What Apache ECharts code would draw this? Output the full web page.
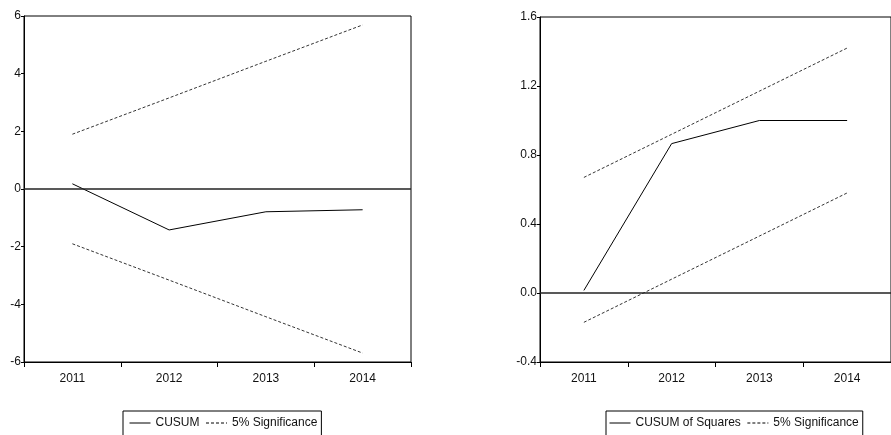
<!DOCTYPE html>
<html>
<head>
<meta charset="utf-8">
<script src="https://cdn.jsdelivr.net/npm/echarts@6/dist/echarts.min.js"></script>
<style>
html,body{margin:0;padding:0;background:#fff;}
#c{width:891px;height:435px;}
</style>
</head>
<body>
<div id="c"></div>
<script>
var years = ['2011', '2012', '2013', '2014'];
var cusum = [0.18, -1.42, -0.79, -0.72];
var cusumUpper = [1.90, 3.16, 4.43, 5.69];
var cusumLower = [-1.90, -3.16, -4.43, -5.69];
var cusumSq = [0.015, 0.866, 1.0, 1.0];
var sqUpper = [0.67, 0.92, 1.17, 1.42];
var sqLower = [-0.17, 0.08, 0.33, 0.58];

var FONT = '"Liberation Sans Narrow", "Arial Narrow", "Liberation Sans", Arial, sans-serif';
var TXT = '#111';

function xAxis(gi) {
  return {
    type: 'category', gridIndex: gi, data: years, boundaryGap: true,
    axisLine: { show: true, onZero: false, lineStyle: { color: '#000', width: 1 } },
    axisTick: { show: true, inside: false, length: 5, alignWithLabel: false, lineStyle: { color: '#000' } },
    axisLabel: { color: TXT, fontFamily: FONT, fontSize: 12, margin: 11 },
    splitLine: { show: false }
  };
}
function yAxis(gi, min, max, interval, dec) {
  return {
    type: 'value', gridIndex: gi, min: min, max: max, interval: interval,
    axisLine: { show: true, onZero: false, lineStyle: { color: '#000', width: 1 } },
    axisTick: { show: true, length: 3, lineStyle: { color: '#000' } },
    axisLabel: { color: TXT, fontFamily: FONT, fontSize: 12, margin: 3,
      formatter: function (v) { return dec ? v.toFixed(dec) : String(Math.round(v)); } },
    splitLine: { show: false }
  };
}
function solid(name, data, xi, withZero) {
  var s = {
    name: name, type: 'line', xAxisIndex: xi, yAxisIndex: xi, data: data,
    symbol: 'none', silent: true, animation: false,
    lineStyle: { color: '#000', width: 1, type: 'solid' },
    itemStyle: { color: '#000' }
  };
  if (withZero) {
    s.markLine = {
      silent: true, symbol: ['none', 'none'], label: { show: false },
      lineStyle: { color: '#222', width: 1.5, type: 'solid' },
      data: [{ yAxis: 0 }], animation: false
    };
  }
  return s;
}
function dashed(name, data, xi) {
  return {
    name: name, type: 'line', xAxisIndex: xi, yAxisIndex: xi, data: data,
    symbol: 'none', silent: true, animation: false,
    lineStyle: { color: '#000', width: 0.8, type: [3, 2] },
    itemStyle: { color: '#000' }
  };
}
function legend(left, names, padLeft) {
  return {
    left: left, top: 411, orient: 'horizontal',
    data: names,
    itemWidth: 21, itemHeight: 8, itemGap: 6,
    padding: [6, 4, 20, padLeft],
    borderColor: '#000', borderWidth: 1, borderRadius: 0,
    backgroundColor: '#fff',
    selectedMode: false,
    lineStyle: { width: 1 },
    itemStyle: { color: 'transparent', borderColor: 'transparent', borderWidth: 0, opacity: 0 },
    textStyle: { color: TXT, fontFamily: FONT, fontSize: 12 }
  };
}

var chart = echarts.init(document.getElementById('c'), null, { renderer: 'canvas' });
chart.setOption({
  backgroundColor: '#fff',
  animation: false,
  grid: [
    { left: 24, top: 16, width: 387, height: 346, show: true, borderColor: '#000', borderWidth: 1, backgroundColor: 'transparent' },
    { left: 540, top: 17, width: 358, height: 345, show: true, borderColor: '#000', borderWidth: 1, backgroundColor: 'transparent' }
  ],
  xAxis: [xAxis(0), xAxis(1)],
  yAxis: [yAxis(0, -6, 6, 2, 0), yAxis(1, -0.4, 1.6, 0.4, 1)],
  legend: [
    legend(123, ['CUSUM', '5% Significance'], 6),
    legend(606, ['CUSUM of Squares', '5% Significance'], 3)
  ],
  series: [
    solid('CUSUM', cusum, 0, true),
    dashed('5% Significance', cusumUpper, 0),
    dashed('5% Significance', cusumLower, 0),
    solid('CUSUM of Squares', cusumSq, 1, true),
    dashed('5% Significance', sqUpper, 1),
    dashed('5% Significance', sqLower, 1)
  ]
});
</script>
</body>
</html>
